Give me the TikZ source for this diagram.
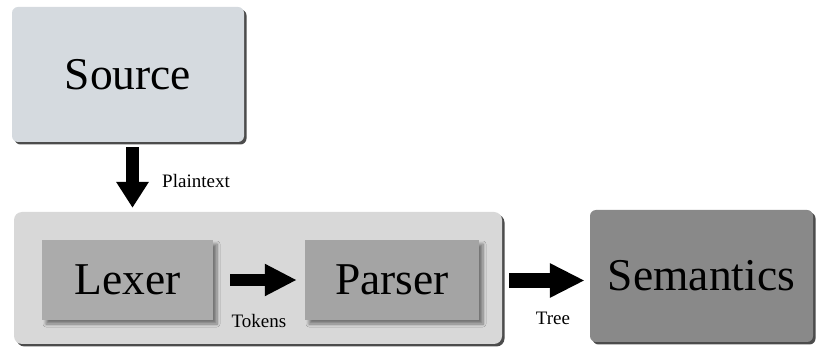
\documentclass[tikz,border=0pt]{standalone}
\usepackage{fontspec}
\setmainfont{Liberation Serif}
\usetikzlibrary{arrows.meta,shadows,shadows.blur}
\definecolor{srcfill}{HTML}{D5DADF}
\definecolor{pipefill}{HTML}{D8D8D8}
\definecolor{lexfill}{HTML}{ABABAB}
\definecolor{parfill}{HTML}{A4A4A4}
\definecolor{semfill}{HTML}{898989}
\begin{document}
\begin{tikzpicture}[x=1pt,y=-1pt,
  outerbox/.style={rounded corners=6pt, inner sep=0pt,
    drop shadow={shadow xshift=2.5pt, shadow yshift=-2.5pt, fill=black!70, opacity=1}},
  innerbox/.style={inner sep=0pt,
    blur shadow={shadow xshift=4pt, shadow yshift=-4pt, shadow blur steps=6, shadow blur radius=3pt, shadow opacity=45}},
  bigtext/.style={font=\fontsize{45.5}{50}\selectfont},
  lbl/.style={font=\fontsize{19}{22}\selectfont, inner sep=0pt},
]
\useasboundingbox (0,0) rectangle (817,347);
\node[outerbox, fill=srcfill, minimum width=232pt, minimum height=135pt, bigtext] (src) at (128,74.5) {Source};
\node[outerbox, rounded corners=8pt, fill=pipefill, minimum width=488pt, minimum height=132pt] (pipe) at (258,278) {};
\node[innerbox, fill=lexfill, minimum width=171pt, minimum height=80pt, bigtext] (lex) at (127.5,280) {Lexer};
\node[innerbox, fill=parfill, minimum width=174pt, minimum height=80pt, bigtext] (par) at (392,280) {Parser};
\node[outerbox, fill=semfill, minimum width=223pt, minimum height=132pt, bigtext] (sem) at (701.5,276) {Semantics};

\draw[line width=13pt, -{Triangle[length=26pt, width=31pt]}]
  ([shift={(4.5,5)}]src.south) -- ([shift={(4.5,-4)}]src.south |- pipe.north);
\node[lbl] (plain) at (196,181) {Plaintext};

\draw[line width=12pt, -{Triangle[length=32pt, width=30pt]}]
  ([xshift=17pt]lex.east) -- ([xshift=-8pt]par.west);
\node[lbl] (tok) at (259,321) {Tokens};

\coordinate (t1) at ([shift={(7,2.5)}]pipe.east);
\draw[line width=15pt, -{Triangle[length=35pt, width=32pt]}, shorten >=5pt]
  (t1) -- (t1 -| sem.west);
\node[lbl] (tree) at (553,318) {Tree};
\end{tikzpicture}
\end{document}
